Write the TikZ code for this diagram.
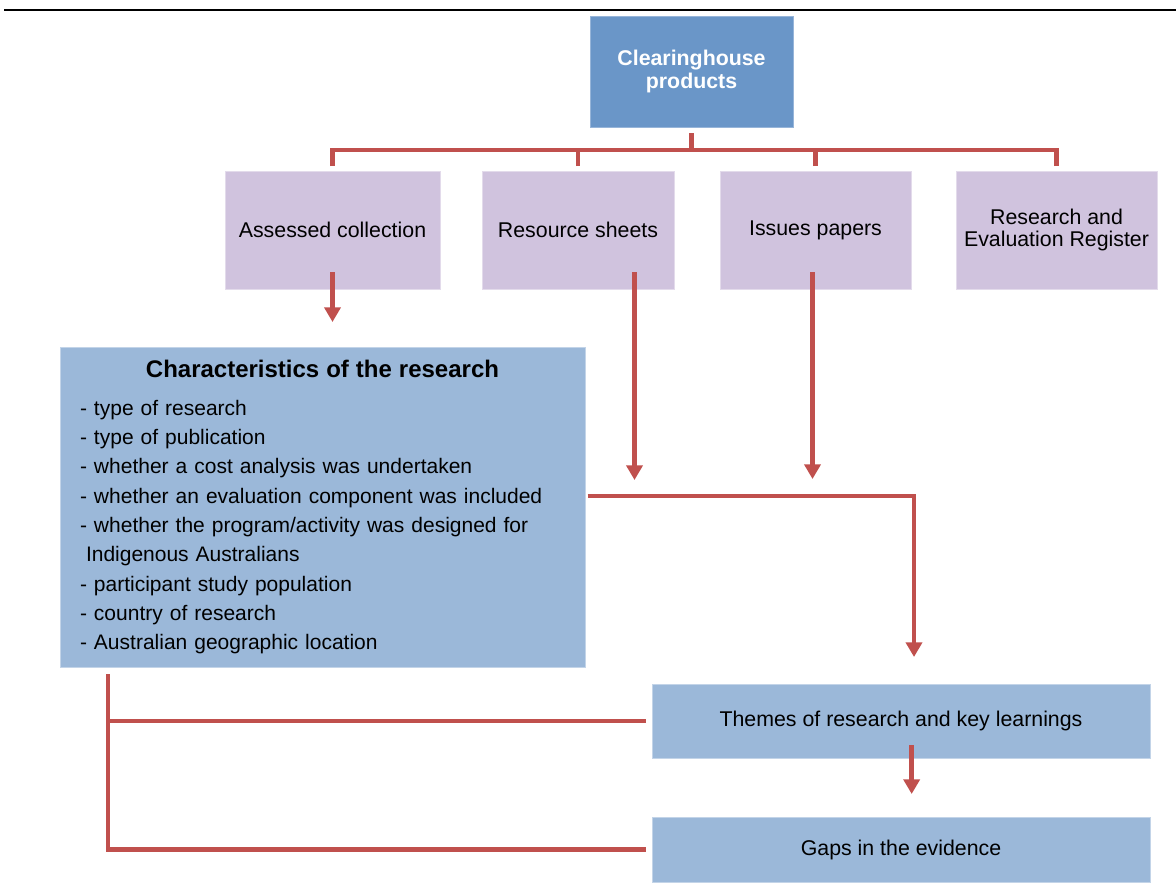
\documentclass[tikz,border=0pt]{standalone}
\usepackage{fontspec}
\setmainfont{Liberation Sans}
\usetikzlibrary{arrows.meta,positioning}
\definecolor{headblue}{HTML}{6A96C8}
\definecolor{lilac}{HTML}{D0C3DE}
\definecolor{paleblue}{HTML}{9BB8D9}
\definecolor{linkred}{HTML}{C0504D}
\tikzset{
  base/.style={font=\fontsize{16}{17}\selectfont, align=center, inner sep=2pt, outer sep=0mm},
  headbox/.style={base, rectangle, draw=headblue!70!white, line width=0.6pt, fill=headblue, text=white, font=\fontsize{16}{17.5}\selectfont\bfseries, minimum width=152.25pt, minimum height=83.25pt},
  prodbox/.style={base, rectangle, draw=lilac!60!white, line width=0.6pt, fill=lilac, minimum height=88.5pt},
  infobox/.style={base, rectangle, draw=paleblue!60!white, line width=0.6pt, fill=paleblue},
  link/.style={draw=linkred, line width=3.6pt},
  arrow/.style={link, -{Triangle[length=11pt, width=12pt]}}
}

\begin{document}
\begin{tikzpicture}[x=0.75pt, y=-0.75pt]
  \useasboundingbox (0,0) rectangle (1176,885);
  \draw[line width=1.8pt] (4,10) -- (1176,10);

  % products and the four outputs
  \node[headbox] (products) at (691.5,71.5) {Clearinghouse\\products};
  \node[prodbox, minimum width=161.25pt] (assessed) at (332.5,230) {Assessed collection};
  \node[prodbox, minimum width=144pt, right=31.5pt of assessed] (sheets) {Resource sheets};
  \node[prodbox, minimum width=143.25pt, right=34.5pt of sheets] (papers) {Issues papers};
  \node[prodbox, minimum width=150.75pt, right=33.75pt of papers] (register) {Research and\\Evaluation Register};

  % what comes out of them
  \node[infobox, minimum width=393.75pt, minimum height=240pt, text width=363.75pt, align=left, font=\fontsize{15.75}{22}\selectfont] (traits) at (322.5,507)
    {\makebox[363.75pt]{\fontsize{18}{22}\selectfont\bfseries Characteristics of the research}\\[6.5pt]
     - type of research\\
     - type of publication\\
     - whether a cost analysis was undertaken\\
     - whether an evaluation component was included\\
     - whether the program/activity was designed for\\
     \hspace*{4.5pt}Indigenous Australians\\
     - participant study population\\
     - country of research\\
     - Australian geographic location};
  \node[infobox, minimum width=373.5pt, minimum height=55.5pt] (themes) at (901,721) {Themes of research and key learnings};
  \node[infobox, minimum width=373.5pt, minimum height=48.75pt, below=44.25pt of themes] (gaps) {Gaps in the evidence};

  % tree from the products box
  \coordinate (bus) at (691.5,150);
  \draw[link, shorten <=4.5pt] (products) -- (bus);
  \foreach \n in {assessed,sheets,papers,register}
    \draw[link, shorten <=3.75pt] (\n.north) |- (bus);

  % arrows
  \coordinate (assessedtip) at (332.5,322);
  \coordinate (sheetstip) at (634.5,480);
  \coordinate (paperstip) at (812.5,479);
  \draw[arrow] ([yshift=12.75pt]assessed.south) -- (assessedtip);
  \draw[arrow] ([xshift=42.4pt, yshift=12.75pt]sheets.south) -- (sheetstip);
  \draw[arrow] ([xshift=-2.25pt, yshift=12.75pt]papers.south) -- (paperstip);
  \draw[arrow] ([xshift=2pt, yshift=8.25pt]traits.east) -| ([xshift=9.75pt, yshift=20.25pt]themes.north);
  \draw[arrow] ([xshift=8pt, yshift=9.75pt]themes.south) -- ([xshift=8pt, yshift=17.25pt]gaps.north);

  % bracket on the left
  \draw[link] ([xshift=36pt, yshift=-5.25pt]traits.south west) |- ([xshift=-4.5pt]gaps.west);
  \draw[link] ([xshift=36pt]traits.south west |- themes.west) -- ([xshift=-4.5pt]themes.west);
\end{tikzpicture}
\end{document}
